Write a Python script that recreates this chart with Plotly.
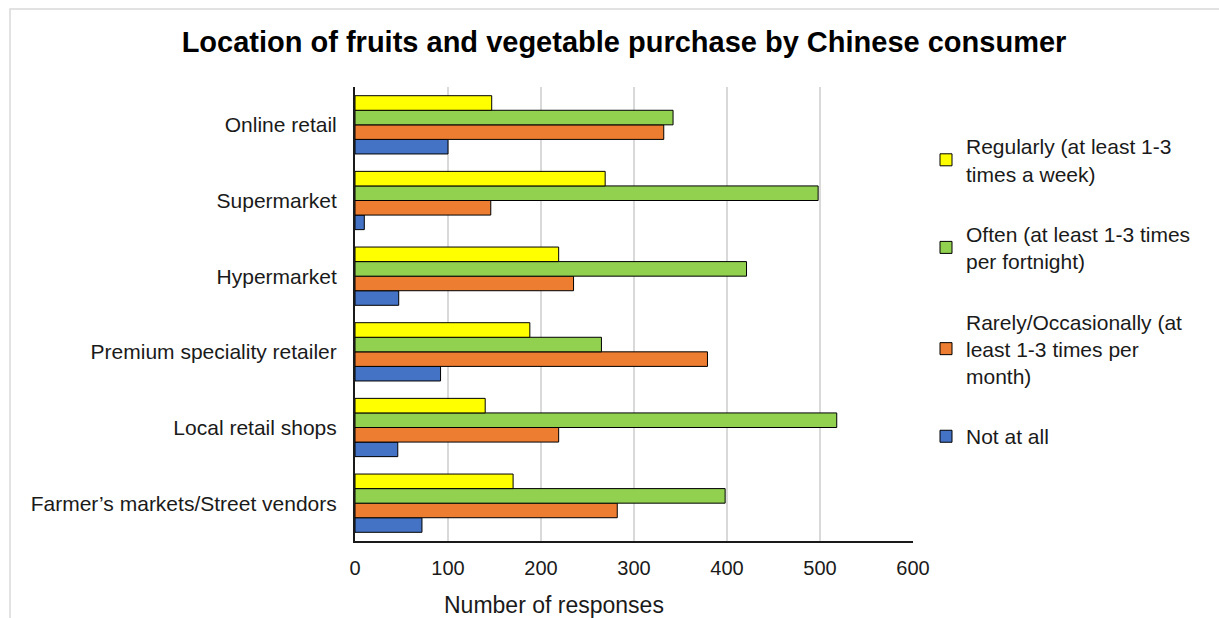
import plotly.graph_objects as go

categories = ["Farmer\u2019s markets/Street vendors", "Local retail shops", "Premium speciality retailer",
              "Hypermarket", "Supermarket", "Online retail"]
not_at_all = [72, 46, 92, 47, 10, 100]
rarely = [282, 219, 379, 235, 146, 332]
often = [398, 518, 265, 421, 498, 342]
regularly = [170, 140, 188, 219, 269, 147]

series_names = ["Not at all",
                "Rarely/Occasionally (at<br>least 1-3 times per<br>month)",
                "Often (at least 1-3 times<br>per fortnight)",
                "Regularly (at least 1-3<br>times a week)"]
series_values = [not_at_all, rarely, often, regularly]
series_colors = ["#4472C4", "#ED7D31", "#92D050", "#FFFF00"]

FONT = "Liberation Sans, Arial, sans-serif"
TXT = "#1a1a1a"

fig = go.Figure()
n = len(series_names)
for i, (name, vals, col) in enumerate(zip(series_names, series_values, series_colors)):
    fig.add_trace(go.Bar(y=categories, x=vals, name=name, orientation="h", legendgroup=f"g{i}",
                         legendrank=n - i,
                         marker=dict(color=col, line=dict(color="#000000", width=1))))

L, R, T, B = 355, 306, 87, 77
W, H = 1219, 618
pw, ph = W - L - R, H - T - B

fig.update_layout(
    width=W, height=H,
    margin=dict(l=L, r=R, t=T, b=B, autoexpand=False),
    paper_bgcolor="white", plot_bgcolor="white",
    barmode="group", bargap=0.23, bargroupgap=0,
    font=dict(family=FONT, color=TXT),
    title=dict(text="<b>Location of fruits and vegetable purchase by Chinese consumer</b>",
               x=624 / W, xref="container", xanchor="center",
               y=1 - 42 / H, yref="container", yanchor="middle",
               font=dict(size=29, family=FONT, color="#000000")),
    legend=dict(traceorder="grouped", tracegroupgap=30,
                x=(926 - L) / pw, xanchor="left",
                y=1 - (126 - T) / ph, yanchor="top",
                font=dict(size=21, family=FONT, color=TXT),
                bgcolor="rgba(0,0,0,0)", itemwidth=30),
    xaxis=dict(range=[0, 600], dtick=100, showgrid=True, gridcolor="#d9d9d9", gridwidth=1.5,
               showline=True, linecolor=TXT, linewidth=2, zeroline=False, automargin=False,
               ticks="", tickfont=dict(size=20, family=FONT, color=TXT), ticklabelstandoff=8),
    yaxis=dict(showline=True, linecolor=TXT, linewidth=2, ticks="", automargin=False,
               tickfont=dict(size=21, family=FONT, color=TXT), ticklabelstandoff=12,
               showgrid=False),
)

# x-axis title (offset to the left of the plot centre, as in the original)
fig.add_annotation(text="Number of responses", xref="paper", yref="paper",
                   x=(554 - L) / pw, y=-(605 - T - ph) / ph, xanchor="center", yanchor="middle",
                   showarrow=False, font=dict(size=23, family=FONT, color=TXT))

# outer chart border (light gray frame, clipped by window at right/bottom)
fig.add_shape(type="rect", xref="paper", yref="paper",
              x0=(10 - L) / pw, x1=(W + 20 - L) / pw,
              y0=-(H + 20 - T - ph) / ph, y1=(T + ph - 9) / ph,
              line=dict(color="#d9d9d9", width=1.5), fillcolor="rgba(0,0,0,0)", layer="below")

fig.write_html("out.html")
